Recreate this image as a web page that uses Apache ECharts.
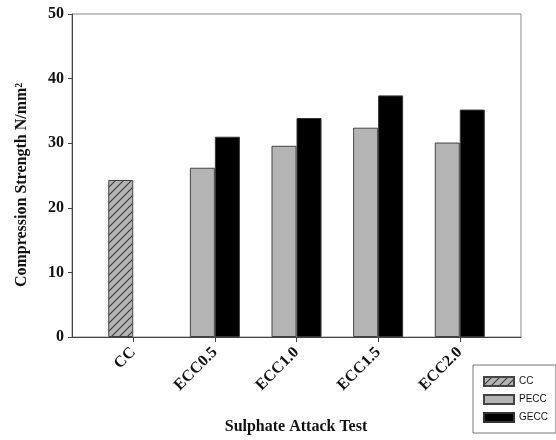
<!DOCTYPE html>
<html>
<head>
<meta charset="utf-8">
<script src="https://cdn.jsdelivr.net/npm/echarts@6/dist/echarts.min.js"></script>
<style>html,body{margin:0;padding:0;background:#fff}#c{width:556px;height:440px}</style>
</head>
<body>
<div id="c"></div>
<script>
const categories = ['CC', 'ECC0.5', 'ECC1.0', 'ECC1.5', 'ECC2.0'];
const ccValues = [24.3, null, null, null, null];
const peccValues = [null, 26.2, 29.6, 32.4, 30.1];
const geccValues = [null, 31.0, 33.9, 37.4, 35.2];
const yTicks = [0, 10, 20, 30, 40, 50];

function hatch() {
  const c = document.createElement('canvas');
  c.width = 8; c.height = 8;
  const g = c.getContext('2d');
  g.fillStyle = '#b4b4b4';
  g.fillRect(0, 0, 8, 8);
  g.strokeStyle = '#3a3a3a';
  g.lineWidth = 1.1;
  g.beginPath();
  g.moveTo(-1, 9); g.lineTo(9, -1);
  g.moveTo(-1, 1); g.lineTo(1, -1);
  g.moveTo(7, 9); g.lineTo(9, 7);
  g.stroke();
  return c;
}
const pts = arr => arr.map((v, i) => [i, v == null ? '-' : v]);
const serif = '"Liberation Serif", "Times New Roman", serif';

const chart = echarts.init(document.getElementById('c'), null, {renderer: 'canvas'});
chart.setOption({
  animation: false,
  backgroundColor: '#fff',
  grid: {left: 72, right: 35, top: 14, bottom: 103, show: true, borderColor: '#8a8a8a', borderWidth: 1, backgroundColor: 'transparent'},
  xAxis: {
    type: 'value', min: -0.75, max: 4.75,
    splitLine: {show: false},
    axisLine: {show: true, onZero: false, lineStyle: {color: '#444', width: 1}},
    axisTick: {show: true, length: 5, lineStyle: {color: '#444'}, customValues: [0, 1, 2, 3, 4]},
    axisLabel: {
      customValues: [0, 1, 2, 3, 4], rotate: 45, margin: 13,
      formatter: v => categories[Math.round(v)],
      fontFamily: serif, fontWeight: 'bold', fontSize: 16, color: '#111'
    }
  },
  yAxis: {
    type: 'value', min: yTicks[0], max: yTicks[yTicks.length - 1], interval: 10,
    splitLine: {show: false},
    axisLine: {show: true, onZero: false, lineStyle: {color: '#444', width: 1}},
    axisTick: {show: true, length: 4, lineStyle: {color: '#444'}},
    axisLabel: {fontFamily: serif, fontWeight: 'bold', fontSize: 16, color: '#111', margin: 8}
  },
  legend: {
    orient: 'vertical', left: 473, top: 365,
    padding: [11, 8, 10, 10],
    borderColor: '#777', borderWidth: 1, backgroundColor: '#fff',
    itemWidth: 30, itemHeight: 9, itemGap: 7,
    icon: 'rect',
    textStyle: {fontFamily: '"Liberation Sans", Arial, sans-serif', fontSize: 10, color: '#111', lineHeight: 9},
    data: ['CC', 'PECC', 'GECC']
  },
  graphic: [
    {type: 'text', x: 22, y: 185, rotation: Math.PI / 2,
     style: {text: 'Compression Strength N/mm²', font: 'bold 16px ' + serif, fill: '#111', align: 'center', verticalAlign: 'middle'}},
    {type: 'text', x: 296, y: 427,
     style: {text: 'Sulphate Attack Test', font: 'bold 16px ' + serif, fill: '#111', align: 'center', verticalAlign: 'middle'}}
  ],
  series: [
    {name: 'CC', type: 'bar', stack: 'a', barWidth: 25, barGap: 0, data: pts(ccValues),
     itemStyle: {color: {image: hatch(), repeat: 'repeat'}, borderColor: '#444', borderWidth: 1}},
    {name: 'PECC', type: 'bar', stack: 'a', barWidth: 25, barGap: 0, data: pts(peccValues),
     itemStyle: {color: '#b4b4b4', borderColor: '#444', borderWidth: 1}},
    {name: 'GECC', type: 'bar', barWidth: 25, barGap: 0, data: pts(geccValues),
     itemStyle: {color: '#000', borderColor: '#333', borderWidth: 1}}
  ]
});
</script>
</body>
</html>
